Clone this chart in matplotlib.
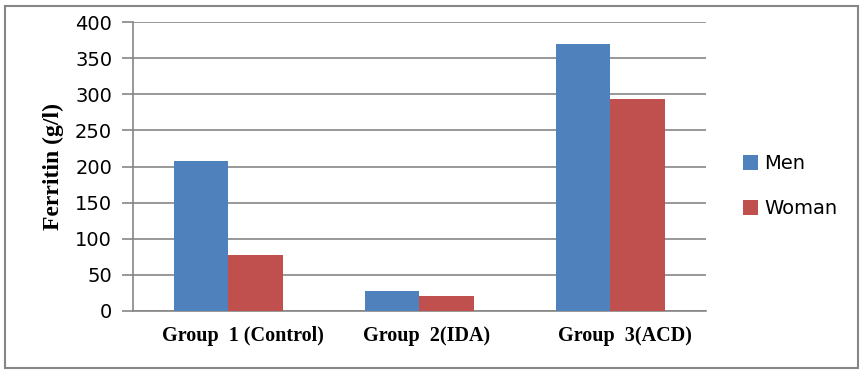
import matplotlib
matplotlib.use("Agg")
import matplotlib.pyplot as plt
from matplotlib.patches import Rectangle
import matplotlib.transforms as mtransforms
import numpy as np

categories = ["Group  1 (Control)", "Group  2(IDA)", "Group  3(ACD)"]
men = [207, 28, 369]
woman = [77, 21, 294]
series_names = ["Men", "Woman"]
colors = ["#4F81BD", "#C0504D"]
yticks = [0, 50, 100, 150, 200, 250, 300, 350, 400]

fig = plt.figure(figsize=(8.64, 3.74), dpi=100)
ax = fig.add_axes([133/864, 1-311/374, (706-133)/864, (311-22)/374])

x = np.arange(len(categories))
w = 0.286
ax.bar(x - w/2, men, w, color=colors[0], label=series_names[0], zorder=3)
ax.bar(x + w/2, woman, w, color=colors[1], label=series_names[1], zorder=3)

ax.set_xlim(-0.5, 2.5)
ax.set_ylim(0, 400)
ax.set_yticks(yticks)
ax.yaxis.grid(True, color="#868686", linewidth=1.2, zorder=0)
ax.set_axisbelow(True)
for s in ["top", "right"]:
    ax.spines[s].set_visible(False)
ax.spines["left"].set_color("#868686")
ax.spines["bottom"].set_color("#868686")
ax.spines["left"].set_linewidth(1.2)
ax.spines["bottom"].set_linewidth(1.2)
ax.tick_params(axis="y", length=8, color="#868686", width=1.2, labelsize=14, pad=7)
ax.tick_params(axis="x", length=0, pad=11)
ax.set_xticks(x)
ax.set_xticklabels(categories, fontfamily="Liberation Serif", fontweight="bold", fontsize=14.5)
offsets_px = [14, 7, 14]
for lab, dx in zip(ax.get_xticklabels(), offsets_px):
    lab.set_transform(lab.get_transform() + mtransforms.ScaledTranslation(dx/100, 0, fig.dpi_scale_trans))
ax.set_ylabel("Ferritin (g/l)", fontfamily="Liberation Serif", fontweight="bold", fontsize=17, labelpad=8)

leg = fig.legend(loc="center left", bbox_to_anchor=(725/864, 1-186/374), frameon=False,
                 fontsize=14, handlelength=0.8, handleheight=0.8, labelspacing=1.35, handletextpad=0.3)

fig.patches.append(Rectangle((5/864, 6/374), 853/864, 362/374, transform=fig.transFigure,
                             fill=False, edgecolor="#868686", linewidth=1.5))

fig.savefig("out.png", dpi=100)
